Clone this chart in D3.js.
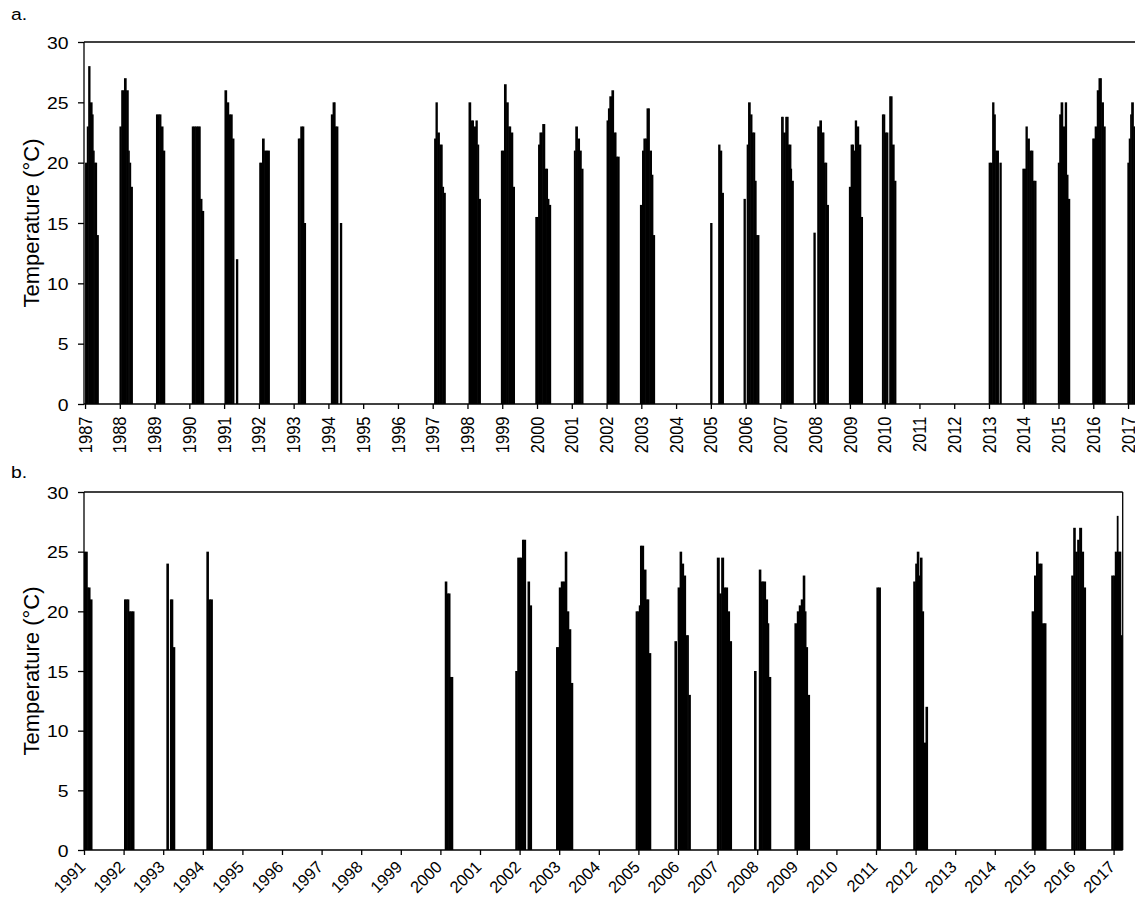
<!DOCTYPE html>
<html>
<head>
<meta charset="utf-8">
<script src="https://cdn.jsdelivr.net/npm/d3@7"></script>
<style>
  body { margin: 0; background: #fff; }
  svg text { font-family: "Liberation Sans", Arial, sans-serif; fill: #000; }
</style>
</head>
<body>
<script>
// y ticks shared by both panels
const tempTicks = [0, 5, 10, 15, 20, 25, 30]

const yearsA = [1987, 1988, 1989, 1990, 1991, 1992, 1993, 1994, 1995, 1996, 1997, 1998, 1999, 2000, 2001,
  2002, 2003, 2004, 2005, 2006, 2007, 2008, 2009, 2010, 2011, 2012, 2013, 2014, 2015, 2016, 2017]
const yearsB = [1991, 1992, 1993, 1994, 1995, 1996, 1997, 1998, 1999, 2000, 2001, 2002, 2003, 2004,
  2005, 2006, 2007, 2008, 2009, 2010, 2011, 2012, 2013, 2014, 2015, 2016, 2017]

// [decimal year of sample, temperature °C] - panel a
const panelA = [
  [1987.00, 20], [1987.05, 23], [1987.09, 28], [1987.14, 25], [1987.20, 24], [1987.23, 21], [1987.26, 20], [1987.30, 20], [1987.33, 14],
  [1987.99, 23], [1988.04, 26], [1988.08, 26], [1988.12, 27], [1988.18, 26], [1988.24, 21], [1988.27, 20], [1988.31, 18],
  [1989.04, 24], [1989.09, 24], [1989.13, 24], [1989.18, 23], [1989.24, 21],
  [1990.07, 23], [1990.12, 23], [1990.17, 23], [1990.22, 23], [1990.27, 23], [1990.31, 17], [1990.36, 16],
  [1991.01, 26], [1991.07, 25], [1991.13, 24], [1991.18, 24], [1991.23, 22], [1991.34, 12],
  [1992.01, 20], [1992.05, 20], [1992.09, 22], [1992.15, 21], [1992.20, 21], [1992.25, 21],
  [1993.12, 22], [1993.16, 22], [1993.19, 23], [1993.24, 23], [1993.29, 15],
  [1994.07, 24], [1994.12, 25], [1994.16, 25], [1994.19, 23], [1994.22, 23], [1994.33, 15],
  [1997.04, 22], [1997.08, 25], [1997.13, 22.5], [1997.19, 21.5], [1997.23, 21.5], [1997.27, 18], [1997.31, 17.5],
  [1998.03, 25], [1998.09, 23.5], [1998.13, 23.5], [1998.17, 23], [1998.23, 23.5], [1998.28, 21.5], [1998.32, 17],
  [1998.96, 21], [1999.01, 21], [1999.05, 26.5], [1999.11, 25], [1999.17, 23], [1999.21, 23], [1999.24, 22.5], [1999.30, 18],
  [1999.95, 15.5], [1999.99, 15.5], [2000.03, 21.5], [2000.07, 22.5], [2000.11, 22.5], [2000.15, 23.2], [2000.19, 23.2],
  [2000.22, 19.5], [2000.26, 19.5], [2000.30, 17], [2000.34, 16.5],
  [2001.06, 21], [2001.10, 23], [2001.16, 22], [2001.22, 21], [2001.27, 19.5],
  [2002.00, 23.5], [2002.04, 24.5], [2002.08, 25.5], [2002.14, 26], [2002.20, 22.5], [2002.24, 22.5], [2002.27, 20.5], [2002.31, 20.5],
  [2002.96, 16.5], [2003.02, 21], [2003.06, 22], [2003.11, 22], [2003.15, 24.5], [2003.19, 24.5], [2003.23, 21], [2003.29, 19], [2003.33, 14],
  [2004.98, 15], [2005.21, 21.5], [2005.26, 21], [2005.31, 17.5],
  [2005.94, 17], [2006.03, 21.5], [2006.07, 25], [2006.13, 24], [2006.18, 22.5], [2006.22, 22.5], [2006.26, 18.5], [2006.30, 14], [2006.33, 14],
  [2007.02, 23.8], [2007.05, 23.8], [2007.08, 22.5], [2007.14, 23.8], [2007.18, 23.8], [2007.22, 21.5], [2007.26, 21.5], [2007.30, 19.5], [2007.32, 18.5],
  [2007.95, 14.2], [2008.06, 23], [2008.12, 23.5], [2008.18, 22.5], [2008.22, 22.5], [2008.25, 20], [2008.29, 20], [2008.33, 16.5],
  [2008.97, 18], [2009.02, 21.5], [2009.06, 21.5], [2009.10, 21], [2009.14, 23.5], [2009.19, 23], [2009.25, 21.5], [2009.31, 15.5],
  [2009.92, 24], [2009.96, 24], [2010.00, 22.5], [2010.04, 22.5], [2010.13, 25.5], [2010.17, 25.5], [2010.21, 21.5], [2010.27, 18.5],
  [2012.99, 20], [2013.04, 20], [2013.09, 25], [2013.14, 24], [2013.18, 21], [2013.22, 21], [2013.30, 20],
  [2013.96, 19.5], [2014.00, 19.5], [2014.05, 23], [2014.10, 22], [2014.16, 21], [2014.21, 21], [2014.26, 18.5], [2014.30, 18.5],
  [2014.98, 20], [2015.02, 24], [2015.06, 25], [2015.12, 23], [2015.18, 25], [2015.23, 19], [2015.27, 17],
  [2015.97, 22], [2016.01, 22], [2016.04, 23], [2016.10, 26], [2016.15, 27], [2016.19, 27], [2016.23, 25], [2016.29, 23],
  [2016.98, 20], [2017.02, 22], [2017.06, 24], [2017.09, 25], [2017.15, 23], [2017.19, 23]
]

// panel b
const panelB = [
  [1991.00, 25], [1991.04, 25], [1991.08, 22], [1991.11, 22], [1991.15, 21],
  [1992.01, 21], [1992.05, 21], [1992.09, 21], [1992.13, 20], [1992.17, 20], [1992.21, 20],
  [1993.08, 24], [1993.17, 21], [1993.21, 21], [1993.24, 17],
  [1994.09, 25], [1994.14, 21], [1994.19, 21],
  [2000.11, 22.5], [2000.16, 21.5], [2000.20, 21.5], [2000.24, 14.5], [2000.26, 14.5],
  [2001.89, 15], [2001.94, 24.5], [2001.98, 24.5], [2002.02, 24.5], [2002.06, 26], [2002.10, 26], [2002.20, 22.5], [2002.25, 20.5],
  [2002.92, 17], [2002.96, 17], [2002.99, 22], [2003.04, 22.5], [2003.09, 22.5], [2003.14, 25], [2003.19, 20], [2003.24, 18.5], [2003.29, 14],
  [2004.93, 20], [2004.97, 20], [2005.01, 20.5], [2005.04, 25.5], [2005.08, 25.5], [2005.13, 23.5], [2005.19, 21], [2005.23, 21], [2005.26, 16.5],
  [2005.91, 17.5], [2005.99, 22], [2006.04, 25], [2006.09, 24], [2006.14, 23], [2006.19, 18], [2006.23, 18], [2006.26, 13],
  [2006.98, 24.5], [2007.04, 21.5], [2007.09, 24.5], [2007.15, 22], [2007.20, 22], [2007.25, 20], [2007.30, 17.5],
  [2007.92, 15], [2008.04, 23.5], [2008.09, 22.5], [2008.13, 22.5], [2008.16, 22.5], [2008.21, 21], [2008.26, 19], [2008.29, 14.5],
  [2008.94, 19], [2009.00, 20], [2009.05, 20.5], [2009.10, 21], [2009.15, 23], [2009.20, 20], [2009.23, 17], [2009.27, 13],
  [2011.01, 22], [2011.06, 22],
  [2011.94, 22.5], [2011.99, 24], [2012.03, 25], [2012.08, 23], [2012.11, 24.5], [2012.16, 20], [2012.20, 9], [2012.25, 12],
  [2014.93, 20], [2014.99, 23], [2015.04, 25], [2015.09, 24], [2015.14, 24], [2015.19, 19], [2015.24, 19],
  [2015.93, 23], [2015.98, 27], [2016.03, 25], [2016.08, 26], [2016.13, 27], [2016.19, 25], [2016.24, 22],
  [2016.94, 23], [2016.99, 23], [2017.03, 25], [2017.08, 28], [2017.11, 25], [2017.15, 25], [2017.18, 18]
]

const width = 1135
const height = 903
const stretch = 1.14   // the picture is a little wider than tall in its text

const svg = d3.select("body")
  .append("svg")
  .attr("width", width)
  .attr("height", height)

function drawPanel(opt) {
  const x = d3.scaleLinear().domain(opt.domain).range([opt.left, opt.right])
  const y = d3.scaleLinear().domain([0, 30]).range([opt.bottom, opt.top])

  const g = svg.append("g")

  g.append("clipPath").attr("id", opt.id)
    .append("rect")
    .attr("x", opt.left).attr("y", opt.top)
    .attr("width", opt.right - opt.left).attr("height", opt.bottom - opt.top)

  // each sample lasts until the next one, or a short default if the next is far away
  const bars = opt.data.map((d, i) => {
    const next = opt.data[i + 1]
    const end = (next && next[0] - d[0] <= 0.065) ? next[0] : d[0] + 0.05
    return { t: d[0], end: end, v: d[1] }
  })

  g.append("g")
    .attr("clip-path", `url(#${opt.id})`)
    .selectAll("rect")
    .data(bars)
    .join("rect")
    .attr("x", d => x(d.t))
    .attr("width", d => x(d.end) - x(d.t) + 0.6)   // small overlap so no seams
    .attr("y", d => y(d.v))
    .attr("height", d => y(0) - y(d.v))
    .attr("fill", "#000")

  // Y axis
  const yAxis = g.append("g")
    .attr("transform", `translate(${opt.left},0)`)
    .call(d3.axisLeft(y).tickValues(opt.yTicks).tickSize(6).tickSizeOuter(0))
  yAxis.select(".domain").remove()
  yAxis.selectAll(".tick line").attr("stroke", "#000").attr("stroke-width", 1.3)
  yAxis.selectAll(".tick text")
    .attr("x", -15.5 / stretch)
    .attr("dy", "0.36em")
    .attr("transform", `scale(${stretch},1)`)
    .style("font-size", "17px")
    .style("font-family", '"Liberation Sans", Arial, sans-serif')

  // X axis: ticks only, the labels are placed below by hand
  const xAxis = g.append("g")
    .attr("transform", `translate(0,${opt.bottom})`)
    .call(d3.axisBottom(x).tickValues(opt.years).tickFormat("").tickSize(5).tickSizeOuter(0))
  xAxis.select(".domain").remove()
  xAxis.selectAll(".tick line").attr("stroke", "#000").attr("stroke-width", 1.3)

  g.append("g")
    .selectAll("text")
    .data(opt.years)
    .join("text")
    .attr("text-anchor", "end")
    .attr("dy", opt.rotate === -90 ? "0.35em" : "0")
    .attr("transform", d => `translate(${x(d) + opt.labelShift[0]},${opt.bottom + opt.labelShift[1]}) scale(${opt.labelStretch},1) rotate(${opt.rotate})`)
    .style("font-size", opt.labelSize + "px")
    .text(d => d)

  // frame
  const line = (x1, y1, x2, y2) => g.append("line")
    .attr("x1", x1).attr("y1", y1).attr("x2", x2).attr("y2", y2)
    .attr("stroke", "#000").attr("stroke-width", 1.3)
  line(opt.left, opt.top, opt.left, opt.bottom)
  line(opt.left, opt.bottom, opt.right, opt.bottom)
  line(opt.left, opt.top, opt.right, opt.top)
  if (opt.rightBorder) line(opt.right, opt.top, opt.right, opt.bottom)

  // y title
  g.append("text")
    .attr("transform", `translate(31,${(opt.top + opt.bottom) / 2}) rotate(-90)`)
    .attr("text-anchor", "middle")
    .attr("dy", "0.35em")
    .style("font-size", "22px")
    .text("Temperature (°C)")

  // panel letter
  g.append("text")
    .attr("transform", `translate(11,${opt.letterY}) scale(${stretch},1)`)
    .style("font-size", "17px")
    .text(opt.letter)
}

drawPanel({
  id: "clipA", data: panelA, years: yearsA, yTicks: tempTicks,
  domain: [1986.97, 2017.2], left: 84, right: 1135, top: 42, bottom: 404,
  rotate: -90, labelShift: [0, 12.5], labelSize: 16.5, labelStretch: stretch, rightBorder: false,
  letter: "a.", letterY: 20
})

drawPanel({
  id: "clipB", data: panelB, years: yearsB, yTicks: tempTicks,
  domain: [1991, 2017.23], left: 84, right: 1122.7, top: 492, bottom: 850,
  rotate: -45, labelShift: [2.5, 18], labelSize: 16.5, labelStretch: 1, rightBorder: true,
  letter: "b.", letterY: 478
})
</script>
</body>
</html>
